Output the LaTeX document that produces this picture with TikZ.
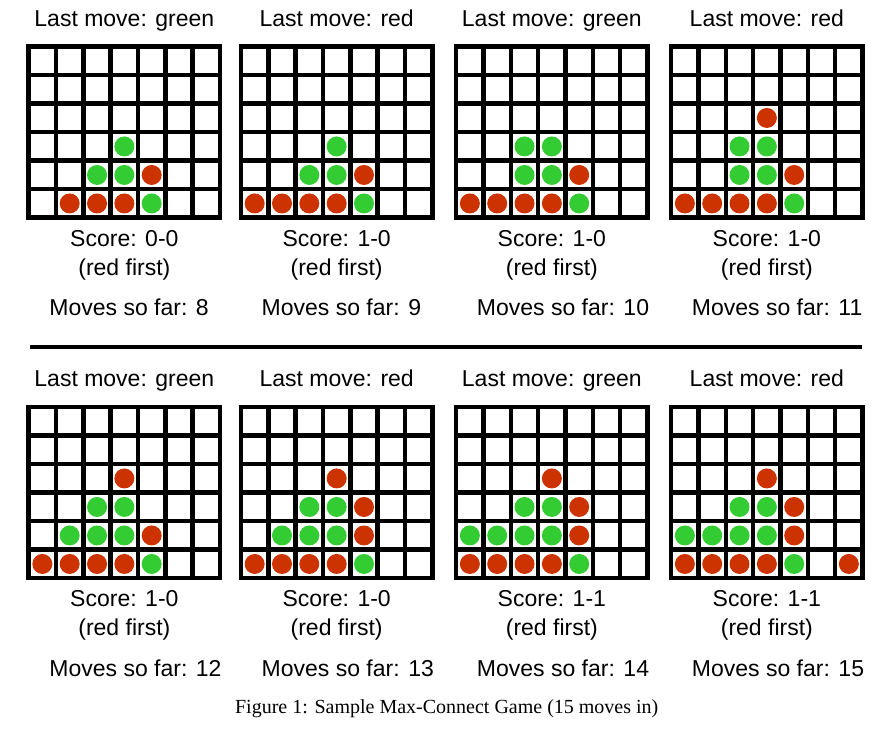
\documentclass[tikz,border=0pt]{standalone}
\usepackage{fontspec}
\setmainfont{Liberation Serif}
\setsansfont{Liberation Sans}
\usepackage{tikz}
\usetikzlibrary{positioning}
\definecolor{mcred}{RGB}{204,51,0}
\definecolor{mcgreen}{RGB}{51,204,51}
\tikzset{
	gridline/.style={draw=black, line width=4.5pt, line cap=rect},
	boardtext/.style={font=\sffamily\fontsize{23}{27}\selectfont, anchor=base, inner sep=0pt},
	movestext/.style={boardtext, anchor=base west},
	caption/.style={font=\fontsize{20}{24}\selectfont, anchor=base, inner sep=0pt}
}
% one 7x6 board: #1,#2 top left corner, #3 discs as col/row/colour (row 0 at the bottom)
\newcommand{\mcboard}[3]{%
	\begin{scope}[shift={(#1,#2)}]
		\foreach \c/\r/\col in {#3}
			\fill[\col] ({(\c+0.5)*27.33},{171-(\r+0.5)*28.5}) circle[radius=10pt];
		\foreach \i in {0,...,7}
			\draw[gridline] ({\i*27.33},0) -- ({\i*27.33},171);
		\foreach \j in {0,...,6}
			\draw[gridline] (0,{\j*28.5}) -- (191.3,{\j*28.5});
	\end{scope}}

\begin{document}
\begin{tikzpicture}[x=1pt,y=-1pt]
	\useasboundingbox (0,0) rectangle (893,729);

	\mcboard{28.7}{46.7}{1/0/mcred,2/0/mcred,3/0/mcred,4/0/mcgreen,2/1/mcgreen,3/1/mcgreen,4/1/mcred,3/2/mcgreen}
	\mcboard{241}{46.7}{0/0/mcred,1/0/mcred,2/0/mcred,3/0/mcred,4/0/mcgreen,2/1/mcgreen,3/1/mcgreen,4/1/mcred,3/2/mcgreen}
	\mcboard{456.2}{46.7}{0/0/mcred,1/0/mcred,2/0/mcred,3/0/mcred,4/0/mcgreen,2/1/mcgreen,3/1/mcgreen,4/1/mcred,2/2/mcgreen,3/2/mcgreen}
	\mcboard{671.2}{46.7}{0/0/mcred,1/0/mcred,2/0/mcred,3/0/mcred,4/0/mcgreen,2/1/mcgreen,3/1/mcgreen,4/1/mcred,2/2/mcgreen,3/2/mcgreen,3/3/mcred}
	\mcboard{28.7}{407.2}{0/0/mcred,1/0/mcred,2/0/mcred,3/0/mcred,4/0/mcgreen,1/1/mcgreen,2/1/mcgreen,3/1/mcgreen,4/1/mcred,2/2/mcgreen,3/2/mcgreen,3/3/mcred}
	\mcboard{241}{407.2}{0/0/mcred,1/0/mcred,2/0/mcred,3/0/mcred,4/0/mcgreen,1/1/mcgreen,2/1/mcgreen,3/1/mcgreen,4/1/mcred,2/2/mcgreen,3/2/mcgreen,4/2/mcred,3/3/mcred}
	\mcboard{456.2}{407.2}{0/0/mcred,1/0/mcred,2/0/mcred,3/0/mcred,4/0/mcgreen,0/1/mcgreen,1/1/mcgreen,2/1/mcgreen,3/1/mcgreen,4/1/mcred,2/2/mcgreen,3/2/mcgreen,4/2/mcred,3/3/mcred}
	\mcboard{671.2}{407.2}{0/0/mcred,1/0/mcred,2/0/mcred,3/0/mcred,4/0/mcgreen,6/0/mcred,0/1/mcgreen,1/1/mcgreen,2/1/mcgreen,3/1/mcgreen,4/1/mcred,2/2/mcgreen,3/2/mcgreen,4/2/mcred,3/3/mcred}

	% texts round each board
	\foreach \n/\bx/\by/\who/\sc in {1/28.7/0/green/0-0, 2/241/0/red/1-0, 3/456.2/0/green/1-0, 4/671.2/0/red/1-0,
		5/28.7/360.5/green/1-0, 6/241/360.5/red/1-0, 7/456.2/360.5/green/1-1, 8/671.2/360.5/red/1-1} {
		\pgfmathtruncatemacro{\mv}{\n+7}
		\node[boardtext] (last\n) at ({\bx+95.65},{\by+26}) {Last move: \who};
		\node[boardtext] (score\n) at ({\bx+95.65},{\by+246}) {Score: \sc};
		\node[boardtext] (first\n) at ({\bx+95.65},{\by+275}) {(red first)};
		\node[movestext] (moves\n) at ({\bx+20.5},{\by+315.7}) {Moves so far: \mv};
	}

	\coordinate (ruleL) at (30,347);
	\coordinate (ruleR) at (862.3,347);
	\draw[line width=4.3pt] (ruleL) -- (ruleR);

	\node[caption] (fig) at (446.7,713) {Figure 1: Sample Max-Connect Game (15 moves in)};
\end{tikzpicture}
\end{document}
